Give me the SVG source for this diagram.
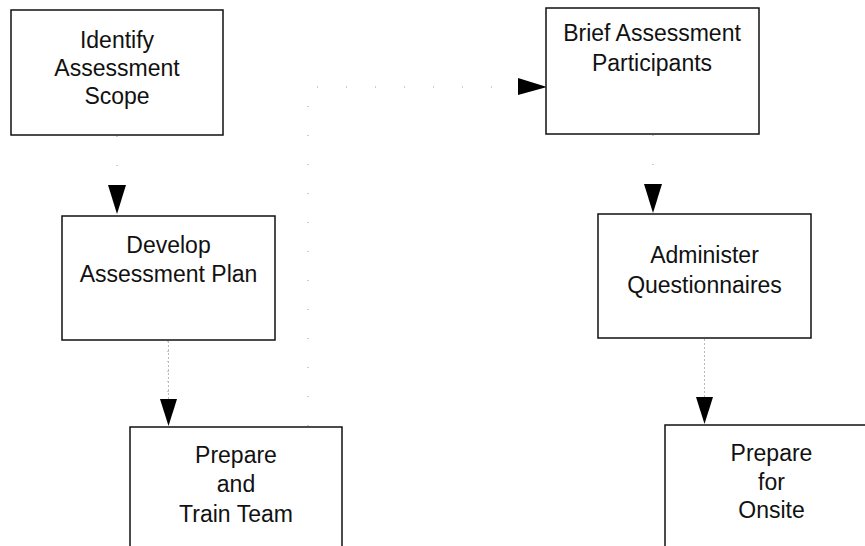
<svg xmlns="http://www.w3.org/2000/svg" width="865" height="546" viewBox="0 0 865 546">
  <defs>
    <style>
      .box { fill: #ffffff; stroke: #111111; stroke-width: 1.5; }
      .lbl { font-family: "Liberation Sans", Arial, sans-serif; font-size: 23px; fill: #111111; text-anchor: middle; }
      .dot { fill: none; stroke: #8a8a8a; stroke-width: 1; stroke-dasharray: 1 9; }
      .sparse { fill: none; stroke: #9a9a9a; stroke-width: 1; stroke-dasharray: 1 28; }
      .head { fill: #000000; stroke: none; }
    </style>
  </defs>
  <rect width="865" height="546" fill="#ffffff"/>

  <g id="connectors">
    <!-- Identify -> Develop -->
    <line class="sparse" x1="117" y1="136" x2="117" y2="185"/>
    <polygon class="head" points="108,185 126,185 117,214"/>
    <!-- Develop -> Prepare and Train Team -->
    <line class="dot" x1="168" y1="341" x2="168" y2="400"/>
    <line x1="168.5" y1="341" x2="168.5" y2="400" stroke="#bbbbbb" stroke-width="1" stroke-dasharray="2 2"/>
    <polygon class="head" points="160,399 177,399 168.5,426"/>
    <!-- Prepare and Train Team -> Brief Assessment Participants -->
    <polyline class="sparse" points="308,426 308,87 518,87"/>
    <polygon class="head" points="518,78 547,87 518,95"/>
    <!-- Brief -> Administer -->
    <line class="sparse" x1="653" y1="135" x2="653" y2="184"/>
    <polygon class="head" points="644,184 662,184 653,213"/>
    <!-- Administer -> Prepare for Onsite -->
    <line x1="704.5" y1="339" x2="704.5" y2="397" stroke="#bbbbbb" stroke-width="1" stroke-dasharray="2 2"/>
    <polygon class="head" points="696,397 713,397 704.5,424"/>
  </g>

  <g id="node-identify">
    <rect class="box" x="11" y="10" width="212" height="125"/>
    <text class="lbl" x="117" y="48">Identify</text>
    <text class="lbl" x="117" y="76">Assessment</text>
    <text class="lbl" x="117" y="104">Scope</text>
  </g>

  <g id="node-brief">
    <rect class="box" x="546" y="8" width="213" height="126"/>
    <text class="lbl" x="652" y="41">Brief Assessment</text>
    <text class="lbl" x="652" y="71">Participants</text>
  </g>

  <g id="node-develop">
    <rect class="box" x="62" y="216" width="213" height="124"/>
    <text class="lbl" x="168.5" y="253">Develop</text>
    <text class="lbl" x="168.5" y="282">Assessment Plan</text>
  </g>

  <g id="node-administer">
    <rect class="box" x="598" y="214" width="213" height="124"/>
    <text class="lbl" x="704.5" y="263">Administer</text>
    <text class="lbl" x="704.5" y="293">Questionnaires</text>
  </g>

  <g id="node-train">
    <rect class="box" x="130" y="427" width="212" height="140"/>
    <text class="lbl" x="236" y="463">Prepare</text>
    <text class="lbl" x="236" y="492">and</text>
    <text class="lbl" x="236" y="522">Train Team</text>
  </g>

  <g id="node-onsite">
    <rect class="box" x="665" y="425" width="213" height="140"/>
    <text class="lbl" x="771.5" y="461">Prepare</text>
    <text class="lbl" x="771.5" y="490">for</text>
    <text class="lbl" x="771.5" y="518">Onsite</text>
  </g>
</svg>
